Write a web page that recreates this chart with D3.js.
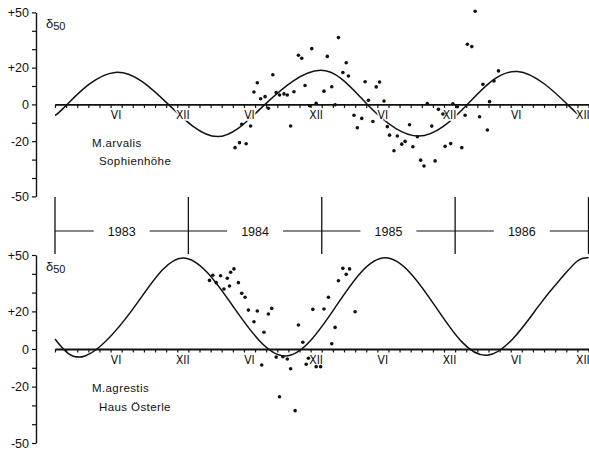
<!DOCTYPE html>
<html>
<head>
<meta charset="utf-8">
<script src="https://cdn.jsdelivr.net/npm/d3@7"></script>
<style>
  body { margin: 0; background: #fff; }
  svg { display: block; }
  text { font-family: "Liberation Sans", Arial, sans-serif; fill: #111; }
  .narrow { font-family: "Liberation Sans Narrow", "DejaVu Sans Condensed", "Liberation Sans", sans-serif; }
</style>
</head>
<body>
<div id="chart"></div>
<script>
// months counted from 1 Jan 1983
const years = ["1983", "1984", "1985", "1986"];
const yearStarts = [0, 12, 24, 36, 48];
const monthLabelPos = [5.5, 11.5, 17.5, 23.5, 29.5, 35.5, 41.5, 47.5];
const monthLabels = ["VI", "XII", "VI", "XII", "VI", "XII", "VI", "XII"];
const yTicks = [50, 40, 30, 20, 10, 0, -10, -20, -30, -40, -50];
const yLabels = { "50": "+50", "20": "+20", "0": "0", "-20": "-20", "-50": "-50" };

// fitted seasonal curves (month, delta50)
const arvalisCurve = [[0, -6], [1.1, 0], [5.4, 17.4], [10.2, 0], [14.6, -17.5], [18.9, 0],
  [23.9, 18.5], [28.1, 0], [32.7, -17.2], [37.1, 0], [41.6, 17.9], [46.1, 0], [47.4, -7]];
const agrestisCurve = [[0, 5.3], [2.7, -3.7], [7.1, 22], [11.5, 48.4], [16.1, 22], [20.7, -3.7],
  [25.2, 22], [29.7, 48.5], [34.3, 22], [38.9, -3.3], [43.4, 22], [45.6, 38], [47, 46.8], [48, 48.5]];

// observations
const arvalisDots = [[16.2,-23.5],[16.6,-20.8],[17.2,-21.4],[16.8,-10.8],[17.6,-11.7],[17.9,6.7],
  [18.2,11.8],[18.5,3.1],[18.9,4.2],[19.2,-2.1],[19.6,16.1],[19.9,6.4],[20.2,5.1],[20.6,5.7],
  [20.9,5.1],[21.2,-11.7],[21.5,6.9],[21.9,26.7],[22.2,25.1],[22.5,10.3],[22.9,-0.7],[23.1,30.3],
  [23.5,0.6],[24.2,7.2],[24.5,26.1],[24.9,9.6],[25.2,-0.2],[25.5,36.3],[25.9,17.3],[26.2,22.6],
  [26.4,15.4],[26.9,-5.9],[27.2,-12.7],[27.6,-7.6],[27.9,12.3],[28.2,2.2],[28.6,-9.3],[28.9,9.5],
  [29.2,12.2],[29.6,1.8],[29.9,-12.1],[30.1,-16.7],[30.5,-25.2],[30.8,-17.2],[31.2,-21.6],
  [31.5,-20.1],[31.9,-11.1],[32.2,-23],[32.6,-17.6],[32.9,-30.3],[33.2,-33.5],[33.5,0.4],
  [33.9,-11.8],[34.2,-30.7],[34.5,-2.7],[34.9,-5.2],[35.1,-22.8],[35.6,-21.3],[35.8,0.3],
  [36.2,-1.3],[36.6,-23.5],[36.9,-5.9],[37.1,32.7],[37.5,31.4],[37.8,50.6],[38.2,-6.7],
  [38.5,10.9],[38.9,-13.9],[39.1,1.5],[39.5,12.7],[39.9,18.2]];
const agrestisDots = [[13.9,36.5],[14.2,39.2],[14.5,35.3],[14.9,39],[15.2,31.9],[15.5,37.6],
  [15.7,33.5],[15.8,40.8],[16.1,42.6],[16.5,35.3],[16.8,29.6],[17.1,27.5],[17.4,20.7],[18.2,20.2],
  [17.9,14.5],[18.8,8.9],[19.2,18.6],[19.5,21.6],[18.6,-8.5],[19.9,-4.3],[20.5,-4.1],[20.9,-5.3],
  [21.2,-10.5],[20.2,-25.4],[21.6,-32.8],[21.9,12.8],[22.3,3.6],[22.6,-8.1],[22.8,-4.9],
  [23.2,21.1],[23.5,-9.4],[23.9,-9.4],[24.2,21.3],[24.6,27.5],[24.9,2.8],[25.2,11.5],[25.5,36.3],
  [25.9,42.9],[26.2,39.7],[26.5,42.6],[27,19.8]];

const width = 589, height = 455;

const svg = d3.select("#chart").append("svg")
  .attr("width", width)
  .attr("height", height)
  .style("background", "#fff");

const x = d3.scaleLinear().domain([0, 48]).range([55, 588.5]);

const panels = [
  { name: "M.arvalis", place: "Sophienhöhe", curve: arvalisCurve, dots: arvalisDots, top: 12.4, bottom: 196.4 },
  { name: "M.agrestis", place: "Haus Österle", curve: agrestisCurve, dots: agrestisDots, top: 255, bottom: 443 }
];

panels.forEach(p => {
  const y = d3.scaleLinear().domain([-50, 50]).range([p.bottom, p.top]);
  const g = svg.append("g");

  // y axis
  const yAxis = g.append("g")
    .attr("transform", "translate(36,0)")
    .call(d3.axisLeft(y).tickValues(yTicks).tickSize(4).tickSizeOuter(0).tickPadding(3)
      .tickFormat(d => yLabels[d] || ""));
  yAxis.select(".domain").attr("stroke", "#111").attr("stroke-width", 1.4);
  yAxis.selectAll(".tick line").attr("stroke", "#111").attr("stroke-width", 1.2);
  yAxis.selectAll("text").attr("font-size", 12.5).attr("font-family", "Liberation Sans, Arial, sans-serif").attr("fill", "#111");

  // zero line with month ticks
  const xAxis = g.append("g")
    .attr("transform", `translate(0,${y(0)})`)
    .call(d3.axisBottom(x).tickValues(d3.range(0, 49)).tickSize(3.5).tickSizeOuter(0).tickFormat(""));
  xAxis.select(".domain").attr("stroke", "#111").attr("stroke-width", 1.8);
  xAxis.selectAll(".tick line").attr("stroke", "#111").attr("stroke-width", 1.2);

  // curve
  const line = d3.line().x(d => x(d[0])).y(d => y(d[1])).curve(d3.curveNatural);
  g.append("path")
    .datum(p.curve)
    .attr("d", line)
    .attr("fill", "none")
    .attr("stroke", "#111")
    .attr("stroke-width", 1.5);

  // month labels
  g.append("g").selectAll("text")
    .data(monthLabelPos)
    .enter().append("text")
    .attr("class", "narrow")
    .attr("x", d => x(d))
    .attr("y", y(0) + 15)
    .attr("text-anchor", "middle")
    .attr("font-size", 12)
    .attr("stroke", "#fff")
    .attr("stroke-width", 3)
    .attr("paint-order", "stroke")
    .text((d, i) => monthLabels[i]);

  // observations
  g.append("g").selectAll("circle")
    .data(p.dots)
    .enter().append("circle")
    .attr("cx", d => x(d[0]))
    .attr("cy", d => y(d[1]))
    .attr("r", 1.8)
    .attr("fill", "#111");

  // delta label
  const dl = g.append("text")
    .attr("x", 46)
    .attr("y", p.top + 16)
    .attr("font-size", 13);
  dl.append("tspan").text("δ");
  dl.append("tspan").attr("font-size", 11).attr("dy", 2).text("50");

  // species and site
  g.append("text")
    .attr("x", 92)
    .attr("y", y(-22) + 2)
    .attr("font-size", 11.5)
    .attr("letter-spacing", 0.4)
    .text(p.name);
  g.append("text")
    .attr("x", 99)
    .attr("y", y(-32) + 2)
    .attr("font-size", 11.5)
    .attr("letter-spacing", 0.4)
    .text(p.place);
});

// year bar between the panels
const yearBar = svg.append("g");
const barY = 231;

yearBar.selectAll("line.year")
  .data(yearStarts)
  .enter().append("line")
  .attr("class", "year")
  .attr("x1", d => x(d))
  .attr("x2", d => x(d))
  .attr("y1", 197)
  .attr("y2", 254)
  .attr("stroke", "#111")
  .attr("stroke-width", 1.3);

years.forEach((yr, i) => {
  const a = x(yearStarts[i]), b = x(yearStarts[i + 1]);
  const mid = (a + b) / 2;
  yearBar.append("line")
    .attr("x1", a).attr("x2", mid - 28)
    .attr("y1", barY).attr("y2", barY)
    .attr("stroke", "#111").attr("stroke-width", 1.2);
  yearBar.append("line")
    .attr("x1", mid + 28).attr("x2", b)
    .attr("y1", barY).attr("y2", barY)
    .attr("stroke", "#111").attr("stroke-width", 1.2);
  yearBar.append("text")
    .attr("x", mid)
    .attr("y", barY + 4.5)
    .attr("text-anchor", "middle")
    .attr("font-size", 12.5)
    .text(yr);
});
</script>
</body>
</html>
